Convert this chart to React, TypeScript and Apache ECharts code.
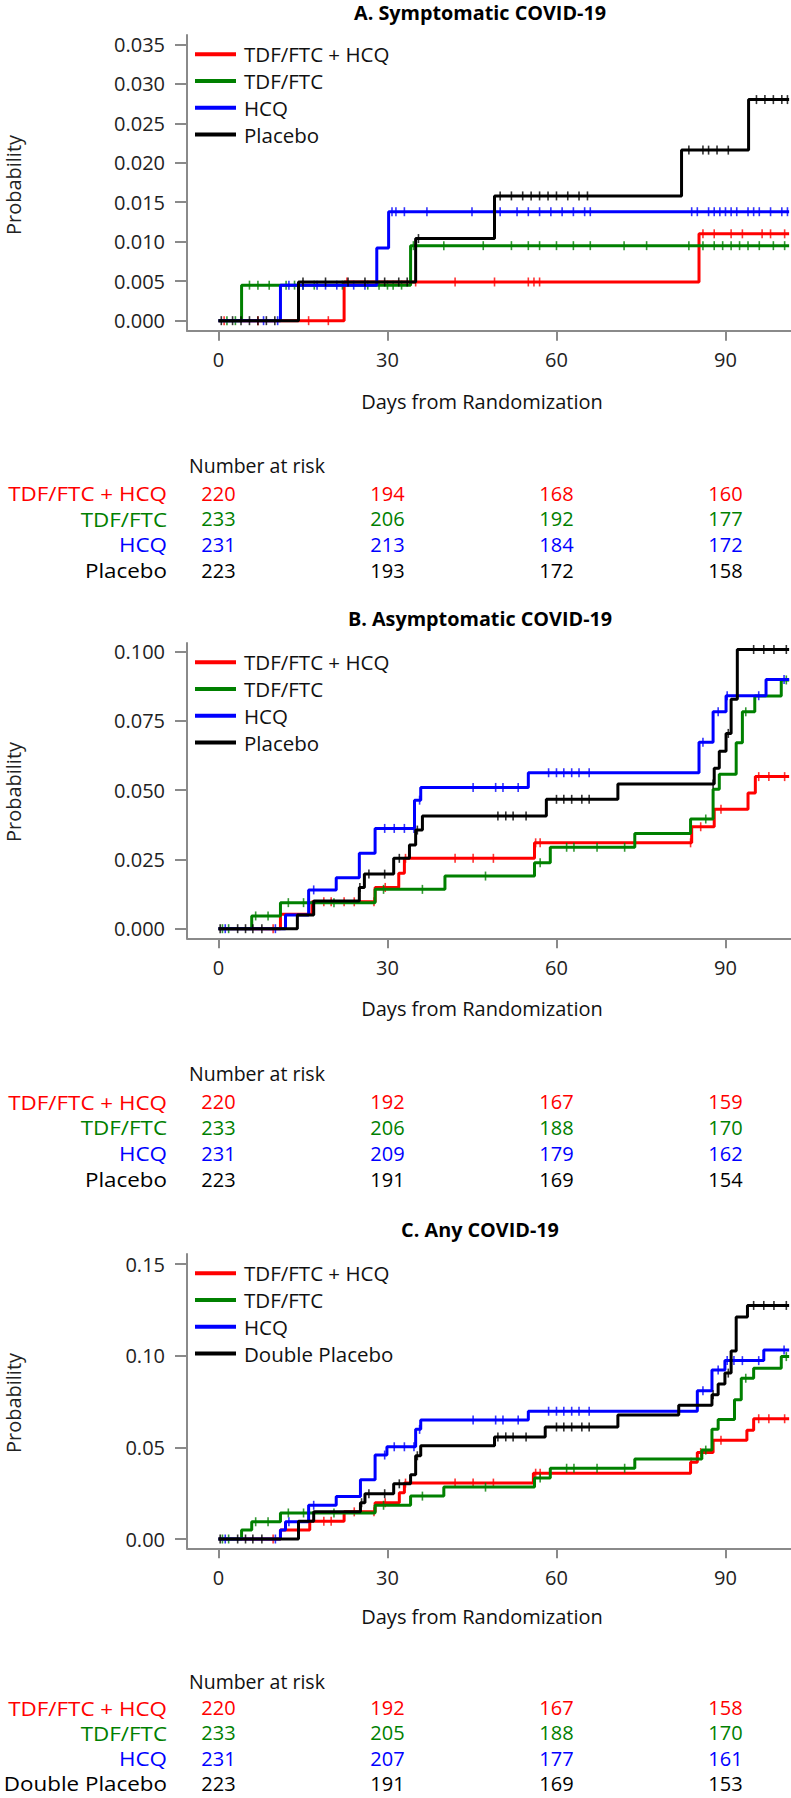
import React, { useEffect, useRef } from 'react';
import * as echarts from 'echarts';

// ---------- DATA ----------
const GROUPS_AB = ['TDF/FTC + HCQ', 'TDF/FTC', 'HCQ', 'Placebo'];
const GROUPS_C = ['TDF/FTC + HCQ', 'TDF/FTC', 'HCQ', 'Double Placebo'];
const COLORS = ['#ff0000', '#008000', '#0000ff', '#000000'];
const TITLES = ['A. Symptomatic COVID-19', 'B. Asymptomatic COVID-19', 'C. Any COVID-19'];
const X_TICKS = [0, 30, 60, 90];
const Y_TICKS_A = [0, 0.005, 0.01, 0.015, 0.02, 0.025, 0.03, 0.035];
const Y_TICKS_B = [0, 0.025, 0.05, 0.075, 0.1];
const Y_TICKS_C = [0, 0.05, 0.1, 0.15];

// Panel A – step curves (day of event, cumulative probability after it)
const A_RED_T = [0, 22.3, 85.3, 101.3];
const A_RED_P = [0, 0.0049, 0.0110, 0.0110];
const A_GRN_T = [0, 4.1, 34.1, 101.3];
const A_GRN_P = [0, 0.0045, 0.0095, 0.0095];
const A_BLU_T = [0, 11.0, 28.1, 30.2, 101.3];
const A_BLU_P = [0, 0.0045, 0.0092, 0.0138, 0.0138];
const A_BLK_T = [0, 14.2, 35.0, 49.0, 82.2, 94.1, 101.3];
const A_BLK_P = [0, 0.0049, 0.0104, 0.0158, 0.0216, 0.0280, 0.0280];
// Panel A – censoring days
const A_RED_C = [1, 7, 16, 19.5, 22.8, 35, 42, 49, 55, 56, 57, 86, 88, 91, 93, 96.5, 98, 100.5];
const A_GRN_C = [1.5, 3, 5.5, 7, 9, 12, 13.5, 15, 17, 22, 26.5, 28.5, 30, 31, 32.5, 34.6, 40, 47, 52, 55, 57, 60, 63, 66, 72, 76, 83.5, 86, 88, 89.5, 91, 92.5, 94, 96, 98.5, 100.5];
const A_BLU_C = [8, 10.5, 12.5, 15, 17.5, 19, 21, 24, 26, 30.8, 31.5, 33, 37, 45, 50, 53, 55, 57, 59, 61, 63, 65, 66, 84, 85, 87, 88, 89, 90, 91, 92, 94, 95, 96, 98, 100, 101];
const A_BLK_C = [0.5, 2.5, 4, 5.5, 7, 8.5, 10, 15, 19, 23, 26, 29.5, 32, 33.5, 35.5, 50, 52, 54, 55.5, 57, 58.5, 60, 62, 64, 65.5, 83.5, 86, 87, 88.5, 90.5, 95.5, 97, 98.5, 100, 101];

// Panel B – step curves
const B_RED_T = [0, 11.0, 16.6, 27.8, 32.0, 33.0, 56.1, 84.0, 88.0, 94.0, 95.3, 101.3];
const B_RED_P = [0, 0.0052, 0.0097, 0.0149, 0.0200, 0.0254, 0.0310, 0.0368, 0.0431, 0.0490, 0.0549, 0.0549];
const B_GRN_T = [0, 5.9, 11.0, 27.8, 40.2, 56.1, 58.9, 73.9, 83.8, 87.8, 88.9, 91.9, 93.0, 95.2, 99.9, 101.3];
const B_GRN_P = [0, 0.0046, 0.0094, 0.0142, 0.0190, 0.0238, 0.0294, 0.0344, 0.0396, 0.0503, 0.0558, 0.0671, 0.0783, 0.0840, 0.0898, 0.0898];
const B_BLU_T = [0, 11.9, 16.0, 20.9, 25.0, 27.8, 34.8, 35.9, 55.0, 85.3, 87.8, 90.1, 97.2, 101.3];
const B_BLU_P = [0, 0.0049, 0.0140, 0.0184, 0.0272, 0.0362, 0.0464, 0.0510, 0.0563, 0.0673, 0.0783, 0.0841, 0.0900, 0.0900];
const B_BLK_T = [0, 14.0, 16.9, 25.0, 25.9, 31.1, 33.9, 35.0, 36.2, 58.2, 70.9, 88.0, 88.9, 90.1, 91.0, 92.1, 101.3];
const B_BLK_P = [0, 0.0049, 0.0100, 0.0149, 0.0197, 0.0254, 0.0302, 0.0356, 0.0407, 0.0467, 0.0522, 0.0579, 0.0641, 0.0705, 0.0828, 0.1008, 0.1008];
const B_RED_C = [9.7, 18.7, 20, 22.3, 24.1, 27.6, 29.6, 33.2, 42, 45.2, 48.8, 56.3, 57.1, 83.8, 85.6, 89.2, 95.9, 97.7, 100.5];
const B_GRN_C = [0.7, 1.8, 6.6, 8.8, 12.4, 15.1, 20.5, 29.3, 36.2, 47.4, 57.1, 61.8, 63.1, 67.2, 72.1, 86.5, 93.6, 100.8];
const B_BLU_C = [1.2, 10.1, 16.9, 29.5, 31.2, 33, 34.7, 35.7, 45.2, 49.2, 50.5, 53.2, 58.6, 60, 61.3, 62.7, 64, 65.8, 86, 88.7, 90.3, 95.9, 100.4];
const B_BLK_C = [0.3, 3.4, 4.8, 6.1, 7.7, 25.1, 26.7, 29.5, 32.1, 35.3, 49.6, 51, 52.3, 54.6, 60, 61.3, 62.7, 64.5, 65.8, 87.8, 90.5, 95, 96.8, 98.6, 100.8];

// Panel C – step curves
const C_RED_T = [0, 11.0, 16.2, 22.3, 27.8, 32.1, 33.0, 55.9, 83.8, 85.0, 87.8, 93.8, 95.0, 101.3];
const C_RED_P = [0, 0.0049, 0.0097, 0.0148, 0.0198, 0.0252, 0.0305, 0.0359, 0.0418, 0.0472, 0.0539, 0.0593, 0.0656, 0.0656];
const C_GRN_T = [0, 4.1, 5.9, 11.0, 27.8, 34.1, 40.0, 56.1, 58.9, 73.9, 85.8, 87.6, 88.7, 91.6, 92.8, 95.0, 99.9, 101.3];
const C_GRN_P = [0, 0.0049, 0.0094, 0.0142, 0.0184, 0.0234, 0.0283, 0.0333, 0.0386, 0.0436, 0.0485, 0.0598, 0.0652, 0.0760, 0.0877, 0.0932, 0.0995, 0.0995];
const C_BLU_T = [0, 11.0, 11.9, 16.0, 20.9, 25.2, 27.8, 29.9, 35.0, 35.9, 55.0, 85.0, 87.6, 89.9, 96.8, 101.3];
const C_BLU_P = [0, 0.0049, 0.0094, 0.0184, 0.0232, 0.0323, 0.0458, 0.0503, 0.0598, 0.0649, 0.0697, 0.0809, 0.0922, 0.0973, 0.1031, 0.1031];
const C_BLK_T = [0, 14.2, 16.9, 25.2, 26.0, 31.1, 34.1, 35.0, 35.9, 49.0, 58.0, 70.9, 81.7, 87.6, 88.7, 89.9, 91.0, 91.9, 93.9, 101.3];
const C_BLK_P = [0, 0.0097, 0.0148, 0.0198, 0.0247, 0.0301, 0.0350, 0.0454, 0.0508, 0.0557, 0.0611, 0.0676, 0.0730, 0.0787, 0.0845, 0.0905, 0.1025, 0.1211, 0.1274, 0.1274];
const C_RED_C = [9.7, 18.7, 20, 24.1, 27.6, 29.6, 33.2, 42, 45.2, 48.8, 56.3, 57.1, 83.9, 85.6, 89.2, 95.9, 97.7, 100.5];
const C_GRN_C = [0.7, 1.8, 6.6, 8.8, 12.4, 15.1, 20.5, 29.3, 36.2, 47.4, 57.1, 61.8, 63.1, 67.2, 72.1, 86.5, 93.6, 100.8];
const C_BLU_C = [1.2, 10.1, 12.5, 16.9, 29.5, 31.2, 33, 34.7, 35.7, 45.2, 49.2, 50.5, 53.2, 58.6, 60, 61.3, 62.7, 64, 65.8, 86, 88.7, 90.3, 91.5, 93, 95.9, 100.4];
const C_BLK_C = [0.3, 3.4, 4.8, 6.1, 7.7, 25.4, 26.7, 29.5, 32.1, 35.3, 49.6, 51, 52.3, 54.6, 60, 61.3, 62.7, 64.5, 65.8, 87.8, 90.5, 95, 96.8, 98.6, 100.8];

// Number at risk (rows: groups; columns: day 0, 30, 60, 90)
const RISK_A = [[220, 194, 168, 160], [233, 206, 192, 177], [231, 213, 184, 172], [223, 193, 172, 158]];
const RISK_B = [[220, 192, 167, 159], [233, 206, 188, 170], [231, 209, 179, 162], [223, 191, 169, 154]];
const RISK_C = [[220, 192, 167, 158], [233, 205, 188, 170], [231, 207, 177, 161], [223, 191, 169, 153]];

// ---------- LAYOUT ----------
const FONT = '"Open Sans", "Noto Sans", sans-serif';
const W = 791;
const H = 1798;
const GRID_LEFT = 187;
const X_MIN = -5.59;
const X_MAX = 101.63;
const AXIS_GRAY = '#8a8a8a';

const PANELS = [
  {
    groups: GROUPS_AB,
    curves: [[A_RED_T, A_RED_P, A_RED_C], [A_GRN_T, A_GRN_P, A_GRN_C], [A_BLU_T, A_BLU_P, A_BLU_C], [A_BLK_T, A_BLK_P, A_BLK_C]],
    risk: RISK_A, yTicks: Y_TICKS_A, dec: 3,
    top: 35, height: 295.7, yMin: -0.00127, yMax: 0.03618,
    titleY: 12, xNameY: 401, yNameY: 185, legendTop: 41,
    riskHeadY: 465, riskRows: [493, 518.5, 544, 570],
  },
  {
    groups: GROUPS_AB,
    curves: [[B_RED_T, B_RED_P, B_RED_C], [B_GRN_T, B_GRN_P, B_GRN_C], [B_BLU_T, B_BLU_P, B_BLU_C], [B_BLK_T, B_BLK_P, B_BLK_C]],
    risk: RISK_B, yTicks: Y_TICKS_B, dec: 3,
    top: 643, height: 295.3, yMin: -0.00347, yMax: 0.10314,
    titleY: 618, xNameY: 1008, yNameY: 792, legendTop: 649,
    riskHeadY: 1073, riskRows: [1101.7, 1127.3, 1153, 1179],
  },
  {
    groups: GROUPS_C,
    curves: [[C_RED_T, C_RED_P, C_RED_C], [C_GRN_T, C_GRN_P, C_GRN_C], [C_BLU_T, C_BLU_P, C_BLU_C], [C_BLK_T, C_BLK_P, C_BLK_C]],
    risk: RISK_C, yTicks: Y_TICKS_C, dec: 2,
    top: 1254, height: 294.3, yMin: -0.00507, yMax: 0.15546,
    titleY: 1229, xNameY: 1616, yNameY: 1403, legendTop: 1260,
    riskHeadY: 1681, riskRows: [1707.5, 1732.8, 1758, 1783.3],
  },
];

function stepValue(T: number[], P: number[], d: number): number {
  let v = P[0];
  for (let i = 0; i < T.length; i++) if (T[i] <= d) v = P[i];
  return v;
}

export default function App() {
  const ref = useRef<HTMLDivElement>(null);
  useEffect(() => {
    if (!ref.current) return;
    const chart = echarts.init(ref.current, undefined, { renderer: 'svg' });

    const grid: any[] = [];
    const xAxis: any[] = [];
    const yAxis: any[] = [];
    const series: any[] = [];
    const legend: any[] = [];

    PANELS.forEach((p, pi) => {
      grid.push({ left: GRID_LEFT, top: p.top, width: W - GRID_LEFT, height: p.height, containLabel: false });
      xAxis.push({
        type: 'value', gridIndex: pi, min: X_MIN, max: X_MAX,
        axisLine: { show: true, onZero: false, lineStyle: { color: AXIS_GRAY, width: 2 } },
        axisTick: { show: true, customValues: X_TICKS, length: 10, lineStyle: { color: AXIS_GRAY, width: 2 } },
        axisLabel: { customValues: X_TICKS, margin: 19, fontSize: 20, fontFamily: FONT, color: '#222' },
        splitLine: { show: false },
      });
      yAxis.push({
        type: 'value', gridIndex: pi, min: p.yMin, max: p.yMax,
        axisLine: { show: true, onZero: false, lineStyle: { color: AXIS_GRAY, width: 2 } },
        axisTick: { show: true, customValues: p.yTicks, length: 12, lineStyle: { color: AXIS_GRAY, width: 2 } },
        axisLabel: {
          customValues: p.yTicks, margin: 22, fontSize: 20, fontFamily: FONT, color: '#222',
          formatter: (v: number) => v.toFixed(p.dec),
        },
        splitLine: { show: false },
      });
      const order = [1, 2, 0, 3];
      order.forEach((gi) => {
        const [T, P, C] = p.curves[gi];
        series.push({
          type: 'line', name: p.groups[gi], xAxisIndex: pi, yAxisIndex: pi, step: 'end',
          data: T.map((t: number, i: number) => [t, P[i]]),
          showSymbol: false, symbol: 'none', silent: true,
          lineStyle: { width: 3, color: COLORS[gi] }, itemStyle: { color: COLORS[gi] },
          z: 2 + gi,
        });
        series.push({
          type: 'scatter', name: p.groups[gi] + ' (censored)', xAxisIndex: pi, yAxisIndex: pi,
          data: C.map((d: number) => [d, stepValue(T, P, d)]),
          symbol: 'rect', symbolSize: [1.6, 9], silent: true,
          itemStyle: { color: COLORS[gi] }, z: 2 + gi,
        });
      });
      legend.push({
        data: p.groups, orient: 'vertical', left: 195, top: p.legendTop, padding: 0, itemGap: 0.4,
        itemWidth: 41, itemHeight: 4, icon: 'rect', selectedMode: false,
        textStyle: { fontSize: 20.5, fontFamily: FONT, color: '#111', lineHeight: 26.4, padding: [0, 0, 0, 3] },
      });
    });

    chart.setOption({ animation: false, backgroundColor: '#fff', grid, xAxis, yAxis, series, legend });

    const graphic: any[] = [];
    const txt = (text: string, x: number, y: number, opts: any = {}) => ({
      type: 'text', x, y, rotation: opts.rotation || 0, scaleX: opts.sx || 1, silent: true,
      style: {
        text, x: 0, y: 0, fill: opts.color || '#111',
        fontSize: opts.size || 20, fontFamily: FONT, fontWeight: opts.weight || 'normal',
        lineHeight: opts.lh || Math.round((opts.size || 20) * 1.05),
        align: opts.align || 'center', verticalAlign: 'middle',
        textAlign: opts.align || 'center', textVerticalAlign: 'middle',
      },
    });
    PANELS.forEach((p, pi) => {
      graphic.push(txt(TITLES[pi], 480, p.titleY, { weight: 'bold', size: 19.8, color: '#000' }));
      graphic.push(txt('Days from Randomization', 482, p.xNameY, { size: 20 }));
      graphic.push(txt('Probability', 13, p.yNameY, { size: 20, rotation: Math.PI / 2, color: '#222' }));
      graphic.push(txt('Number at risk', 189, p.riskHeadY, { size: 19.5, align: 'left' }));
      p.groups.forEach((g, gi) => {
        const y = p.riskRows[gi];
        graphic.push(txt(g, 167, y, { size: 20, lh: 20, sx: 1.12, align: 'right', color: COLORS[gi] }));
        X_TICKS.forEach((d, di) => {
          const px = chart.convertToPixel({ xAxisIndex: pi }, d) as number;
          graphic.push(txt(String(p.risk[gi][di]), px, y, { size: 20, lh: 20, color: COLORS[gi] }));
        });
      });
    });
    chart.setOption({ graphic });

    return () => chart.dispose();
  }, []);
  return <div ref={ref} style={{ position: 'absolute', left: 0, top: 0, width: W, height: H }} />;
}
